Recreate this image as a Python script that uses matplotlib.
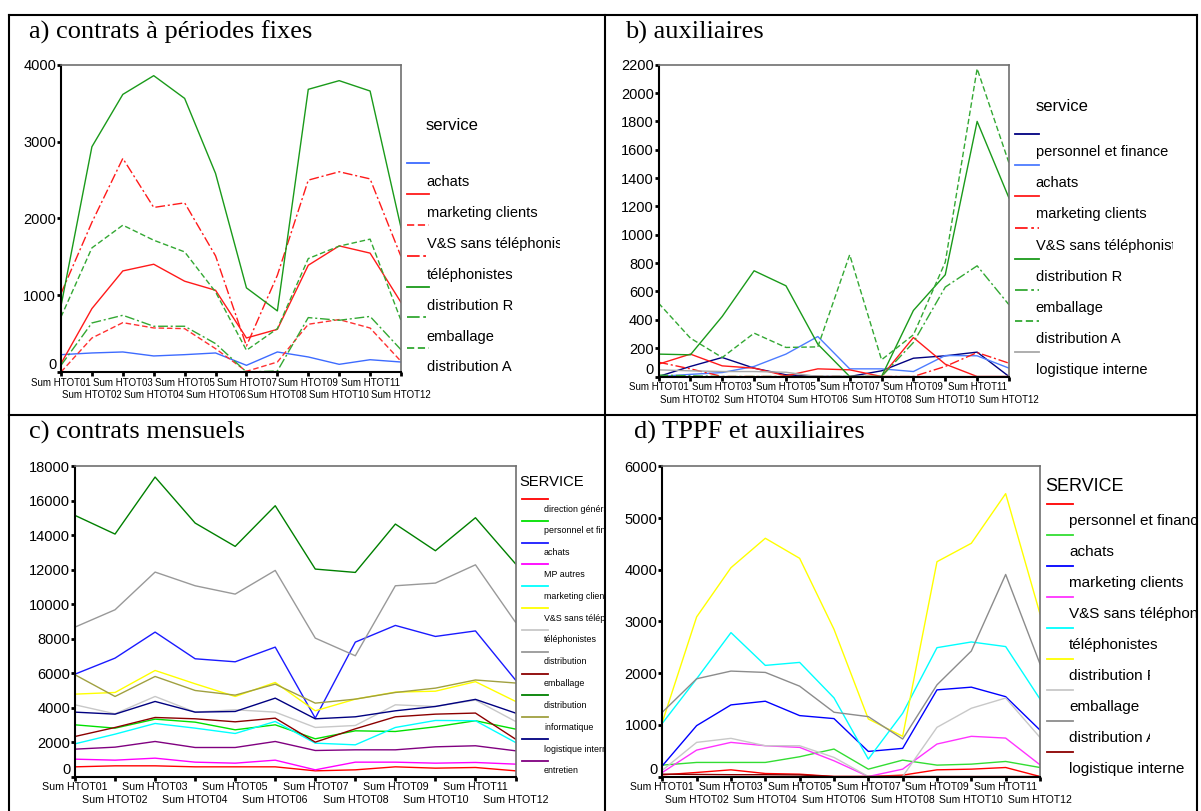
import matplotlib
matplotlib.use("Agg")
import matplotlib.pyplot as plt
from matplotlib.lines import Line2D
from matplotlib.transforms import Bbox, TransformedBbox

W, H = 1201, 811
plt.rcParams["font.family"] = ["Liberation Sans", "DejaVu Sans"]

months = ["Sum HTOT01", "Sum HTOT02", "Sum HTOT03", "Sum HTOT04", "Sum HTOT05", "Sum HTOT06",
          "Sum HTOT07", "Sum HTOT08", "Sum HTOT09", "Sum HTOT10", "Sum HTOT11", "Sum HTOT12"]

# a) contrats à périodes fixes
a_services = ["achats", "marketing clients", "V&S sans téléphonistes", "téléphonistes",
              "distribution R", "emballage", "distribution A"]
a_achats = [226, 248, 261, 209, 226, 248, 87, 261, 196, 100, 160, 130]
a_marketing = [109, 826, 1317, 1404, 1183, 1065, 443, 556, 1391, 1643, 1549, 907]
a_vs = [0, 443, 643, 574, 565, 304, 9, 130, 622, 683, 573, 139]
a_telephonistes = [1022, 1950, 2783, 2144, 2204, 1513, 339, 1261, 2500, 2609, 2516, 1505]
a_distr = [860, 2935, 3617, 3861, 3565, 2587, 1096, 796, 3683, 3796, 3661, 1880]
a_emballage = [87, 639, 739, 596, 596, 370, 0, 13, 709, 674, 724, 290]
a_distra = [717, 1617, 1913, 1717, 1565, 1043, 283, 565, 1478, 1640, 1731, 672]

# b) auxiliaires
b_services = ["personnel et finance", "achats", "marketing clients", "V&S sans téléphonistes",
              "distribution R", "emballage", "distribution A", "logistique interne"]
b_personnel = [0, 71, 134, 59, 12, 0, 0, 40, 129, 146, 172, 0]
b_achats = [0, 15, 28, 71, 158, 282, 54, 54, 35, 148, 146, 59]
b_marketing = [87, 158, 75, 59, 5, 54, 47, 0, 275, 87, 0, 0]
b_vs = [101, 54, 0, 0, 0, 0, 0, 0, 0, 71, 169, 94]
b_distr = [158, 153, 424, 746, 640, 228, 0, 0, 466, 718, 1800, 1259]
b_emballage = [10, 5, 0, 0, 0, 0, 0, 0, 240, 631, 781, 506]
b_distra = [518, 271, 134, 306, 205, 209, 859, 118, 294, 807, 2172, 1506]
b_logistique = [47, 40, 35, 35, 30, 0, 0, 0, 0, 0, 0, 0]

# c) contrats mensuels
c_services = ["direction générale", "personnel et finance", "achats", "MP autres",
              "marketing clients", "V&S sans téléphonistes", "téléphonistes", "distribution",
              "emballage", "distribution", "informatique", "logistique interne", "entretien"]
c_direction = [561, 619, 619, 561, 561, 561, 329, 387, 561, 484, 523, 329]
c_personnel = [2999, 2806, 3328, 3154, 2709, 2999, 2187, 2651, 2612, 2883, 3236, 2751]
c_achats = [5940, 6869, 8379, 6831, 6656, 7508, 3386, 7798, 8766, 8127, 8448, 5600]
c_mp = [1006, 948, 1064, 832, 774, 948, 387, 832, 832, 774, 814, 717]
c_marketing = [1896, 2457, 3077, 2806, 2496, 3193, 1935, 1838, 2845, 3251, 3236, 1976]
c_vs = [4779, 4876, 6153, 5379, 4644, 5457, 3812, 4489, 4896, 4950, 5503, 4360]
c_telephonistes = [4160, 3638, 4644, 3735, 3870, 3735, 2845, 2960, 4160, 4064, 4437, 3197]
c_distribution1 = [8669, 9675, 11862, 11068, 10584, 11958, 8030, 7005, 11068, 11223, 12284, 8952]
c_emballage = [2322, 2845, 3425, 3348, 3173, 3386, 1993, 2767, 3464, 3618, 3681, 2170]
c_distribution2 = [15151, 14067, 17376, 14706, 13352, 15712, 12036, 11842, 14648, 13100, 15016, 12343]
c_informatique = [5902, 4644, 5805, 4992, 4721, 5360, 4257, 4489, 4876, 5128, 5600, 5425]
c_logistique = [3735, 3618, 4354, 3735, 3773, 4547, 3348, 3464, 3812, 4064, 4476, 3681]
c_entretien = [1587, 1703, 2032, 1683, 1683, 2032, 1509, 1548, 1548, 1722, 1783, 1492]

# d) TPPF et auxiliaires
d_services = ["personnel et finance", "achats", "marketing clients", "V&S sans téléphonistes",
              "téléphonistes", "distribution R", "emballage", "distribution A", "logistique interne"]
d_personnel = [32, 78, 129, 58, 45, 0, 0, 26, 129, 142, 174, 0]
d_achats = [220, 272, 272, 272, 382, 531, 142, 317, 220, 239, 291, 174]
d_marketing = [207, 984, 1385, 1456, 1178, 1120, 485, 544, 1676, 1728, 1544, 898]
d_vs = [78, 511, 660, 595, 563, 304, 0, 142, 628, 777, 743, 226]
d_telephonistes = [1029, 1890, 2783, 2149, 2207, 1521, 337, 1223, 2492, 2602, 2513, 1498]
d_distr = [1050, 3087, 4039, 4608, 4220, 2848, 1113, 777, 4155, 4511, 5471, 3146]
d_emballage = [120, 660, 738, 595, 595, 369, 0, 0, 951, 1320, 1518, 756]
d_distra = [1243, 1890, 2039, 2013, 1747, 1243, 1158, 725, 1773, 2427, 3908, 2177]
d_logistique = [45, 40, 35, 35, 30, 0, 0, 0, 0, 0, 0, 0]

DASH = (0, (4, 2))
DASHDOT = (0, (7, 2, 1.5, 2))

fig = plt.figure(figsize=(W / 100, H / 100), dpi=100)


def fx(x):
    return x / W


def fy(y):
    return 1 - y / H


def panel(box, ymax, ystep, series, styles, xfont, row_gap):
    l, t, r, b = box
    ax = fig.add_axes([fx(l), fy(b), (r - l) / W, (b - t) / H])
    for vals, (col, ls) in zip(series, styles):
        ax.plot(range(12), vals, color=col, ls=ls, lw=1.0)
    ax.set_xlim(0, 11)
    ax.set_ylim(0, ymax)
    ax.set_yticks(range(0, ymax + 1, ystep))
    # staggered month labels: odd months on major ticks (row 1), even on minor (row 2)
    ax.set_xticks(range(0, 12, 2))
    ax.set_xticklabels(months[0::2], fontsize=xfont)
    ax.set_xticks(range(1, 12, 2), minor=True)
    ax.set_xticklabels(months[1::2], minor=True, fontsize=xfont)
    ax.tick_params(axis="y", labelsize=10.5, length=3, width=2, pad=0.5)
    ax.tick_params(axis="x", which="both", length=3, width=2, pad=1)
    ax.tick_params(axis="x", which="minor", pad=1 + row_gap)
    for s in ["left", "bottom"]:
        ax.spines[s].set_linewidth(1.5)
        ax.spines[s].set_color("black")
    for s in ["top", "right"]:
        ax.spines[s].set_linewidth(1.2)
        ax.spines[s].set_color("#707070")
    # the 0 label sits a little above the axis, as in the original
    ax.yaxis.get_major_ticks()[0].label1.set_verticalalignment("bottom")
    return ax


def legend(title, tx, ty, tsize, names, styles, x0, x1, y0, dy, lx, ldy, lsize, clip_x, clip_special=None):
    fig.text(fx(tx), fy(ty), title, fontsize=tsize, va="center", ha="left")
    for i, (name, (col, ls)) in enumerate(zip(names, styles)):
        yl = y0 + i * dy
        fig.add_artist(Line2D([fx(x0), fx(x1)], [fy(yl), fy(yl)], color=col, ls=ls, lw=1.3,
                              transform=fig.transFigure))
        cx = clip_x
        if clip_special and name in clip_special:
            cx = clip_special[name]
        txt = fig.text(fx(lx), fy(yl + ldy), name, fontsize=lsize, va="center", ha="left")
        txt.set_clip_box(TransformedBbox(Bbox([[0, 0], [fx(cx), 1]]), fig.transFigure))
        txt.set_clip_on(True)


def title(x, y, s):
    fig.text(fx(x), fy(y), s, fontsize=19, family="Liberation Serif", va="center", ha="left")


# panel a
a_styles = [("#3d6bff", "-"), ("#ff1a1a", "-"), ("#ff3030", DASH), ("#ff1a1a", DASHDOT),
            ("#1a9a1a", "-"), ("#33a833", DASHDOT), ("#33a833", DASH)]
panel((61, 65, 401, 372), 4000, 1000,
      [a_achats, a_marketing, a_vs, a_telephonistes, a_distr, a_emballage, a_distra],
      a_styles, 7, 9.1)
title(29, 32, "a) contrats à périodes fixes")
legend("service", 425.7, 125, 12, a_services, a_styles, 406.7, 429.3, 163.3, 30.8,
       426.7, 19.2, 10.5, 560)

# panel b
b_styles = [("#000080", "-"), ("#4d7cff", "-"), ("#ff1a1a", "-"), ("#ff1a1a", DASHDOT),
            ("#1a9a1a", "-"), ("#33a833", DASHDOT), ("#33a833", DASH), ("#a8a8a8", "-")]
panel((658.5, 64.7, 1009, 376.5), 2200, 200,
      [b_personnel, b_achats, b_marketing, b_vs, b_distr, b_emballage, b_distra, b_logistique],
      b_styles, 7, 9.1)
title(625, 32, "b) auxiliaires")
legend("service", 1035.7, 106.7, 12, b_services, b_styles, 1015, 1039, 134, 31.2,
       1035.7, 18, 10.5, 1173)

# panel c
c_styles = [("#ff0000", "-"), ("#00e000", "-"), ("#1a1aff", "-"), ("#ff00ff", "-"),
            ("#00ffff", "-"), ("#ffff00", "-"), ("#c8c8c8", "-"), ("#999999", "-"),
            ("#8b0000", "-"), ("#008000", "-"), ("#a0a040", "-"), ("#000080", "-"),
            ("#800080", "-")]
panel((75, 466.3, 515.5, 776.5), 18000, 2000,
      [c_direction, c_personnel, c_achats, c_mp, c_marketing, c_vs, c_telephonistes,
       c_distribution1, c_emballage, c_distribution2, c_informatique, c_logistique, c_entretien],
      c_styles, 7.7, 9.1)
title(29, 432.7, "c) contrats mensuels")
legend("SERVICE", 519.3, 481.7, 10.6, c_services, c_styles, 522.3, 548.3, 499, 21.83,
       544, 10, 6.4, 604)

# panel d
d_styles = [("#ff0000", "-"), ("#33dd33", "-"), ("#0000ff", "-"), ("#ff33ff", "-"),
            ("#00ffff", "-"), ("#ffff00", "-"), ("#c8c8c8", "-"), ("#8c8c8c", "-"),
            ("#8b0000", "-")]
panel((662.3, 466.3, 1040, 776.5), 6000, 1000,
      [d_personnel, d_achats, d_marketing, d_vs, d_telephonistes, d_distr, d_emballage,
       d_distra, d_logistique],
      d_styles, 7.5, 9.1)
title(633.5, 432.7, "d) TPPF et auxiliaires")
legend("SERVICE", 1045, 486.7, 13, d_services, d_styles, 1046.7, 1072.7, 504, 31,
       1069, 17, 11, 1196, {"distribution R": 1150, "distribution A": 1150})

# table borders
for (x0, y0, x1, y1) in [(8.5, 15, 1197, 15), (8.5, 414.5, 1197, 414.5), (8.5, 15, 8.5, 811),
                         (605, 15, 605, 811), (1197, 15, 1197, 811)]:
    fig.add_artist(Line2D([fx(x0), fx(x1)], [fy(y0), fy(y1)], color="black", lw=1.5,
                          transform=fig.transFigure))

fig.savefig("out.png", dpi=100)
